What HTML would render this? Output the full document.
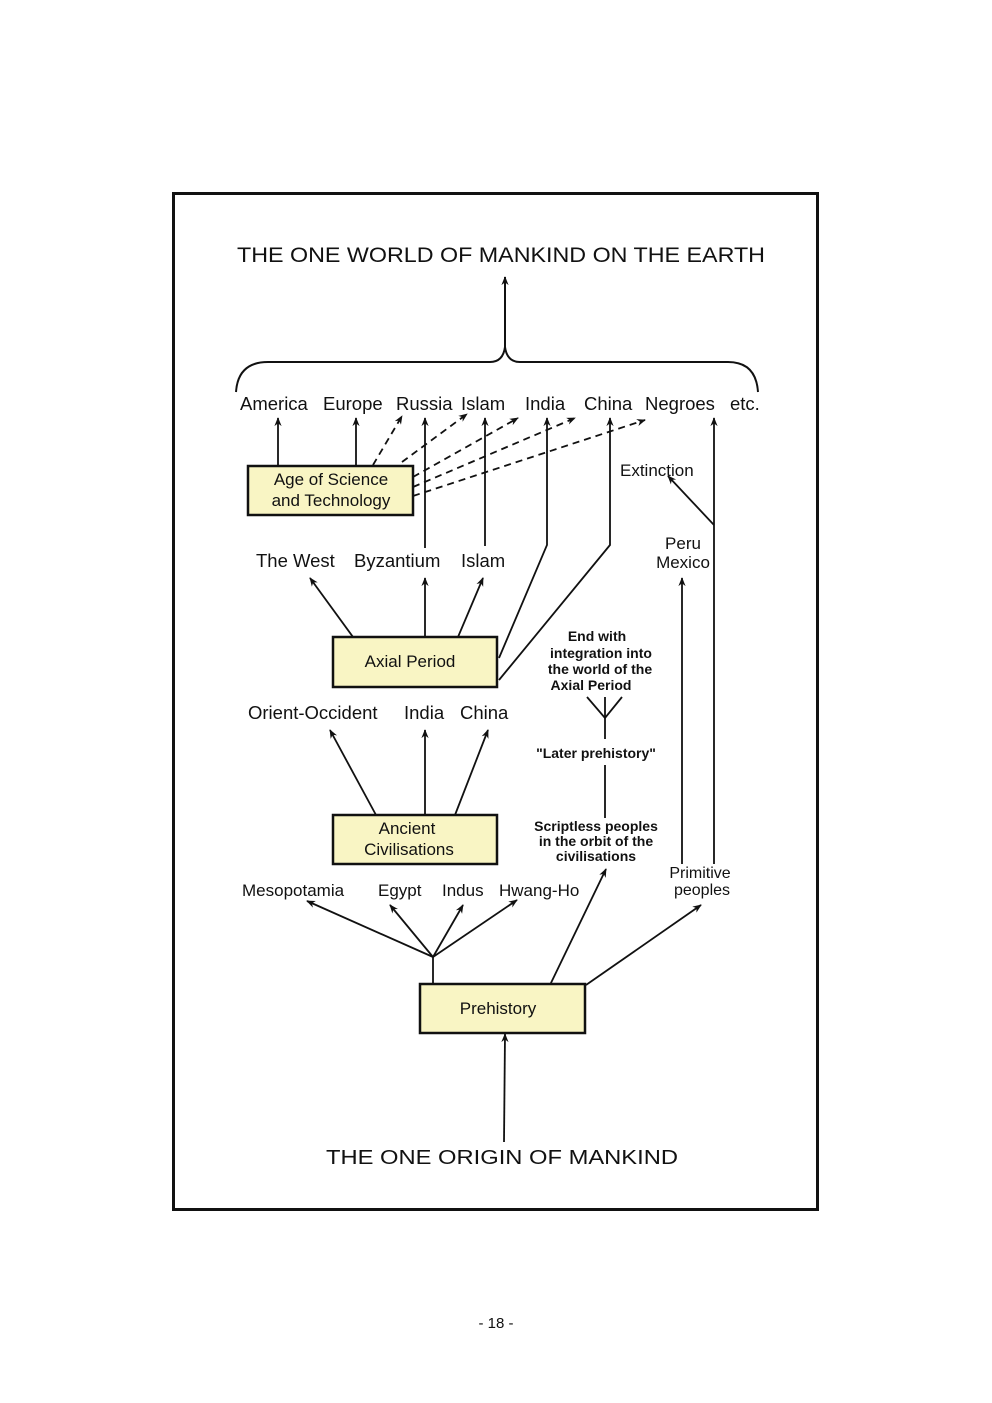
<!DOCTYPE html>
<html><head><meta charset="utf-8"><style>
html,body{margin:0;padding:0;background:#fff;}
svg{display:block;}
text{font-family:"Liberation Sans",sans-serif;fill:#111;}
</style></head><body>
<svg width="992" height="1403" viewBox="0 0 992 1403" xmlns="http://www.w3.org/2000/svg">
<defs>
<marker id="a" viewBox="0 0 10 10" refX="9" refY="5" markerWidth="9" markerHeight="9" orient="auto" markerUnits="userSpaceOnUse">
<path d="M0,1 L10,5 L0,9 L3,5 Z" fill="#111"/>
</marker>
</defs>
<rect x="173.5" y="193.5" width="644" height="1016" fill="none" stroke="#111" stroke-width="3"/>

<text x="501" y="262" font-size="21" text-anchor="middle" textLength="528" lengthAdjust="spacingAndGlyphs">THE ONE WORLD OF MANKIND ON THE EARTH</text>

<g stroke="#111" stroke-width="2" fill="none">
<path d="M236,392 Q238,362 268,362 L490,362 Q503,362 505,347 Q507,362 520,362 L728,362 Q756,362 758,392"/>
<line x1="505" y1="347" x2="505" y2="277" marker-end="url(#a)"/>
</g>

<g font-size="18.5">
<text x="240" y="410">America</text>
<text x="323" y="410">Europe</text>
<text x="396" y="410">Russia</text>
<text x="461" y="410">Islam</text>
<text x="525" y="410">India</text>
<text x="584" y="410">China</text>
<text x="645" y="410">Negroes</text>
<text x="730" y="410">etc.</text>
</g>

<rect x="248" y="466" width="165" height="49" fill="#f9f5c4" stroke="#111" stroke-width="2.5"/>
<text x="331" y="485" font-size="17" text-anchor="middle">Age of Science</text>
<text x="331" y="506" font-size="17" text-anchor="middle">and Technology</text>

<g stroke="#111" stroke-width="1.8" fill="none">
<line x1="278" y1="466" x2="278" y2="418" marker-end="url(#a)"/>
<line x1="356" y1="466" x2="356" y2="418" marker-end="url(#a)"/>
<line x1="425" y1="548" x2="425" y2="418" marker-end="url(#a)"/>
<line x1="485" y1="546" x2="485" y2="418" marker-end="url(#a)"/>
<polyline points="499,658 547,545 547,418" marker-end="url(#a)"/>
<polyline points="499,680 610,545 610,418" marker-end="url(#a)"/>
<line x1="714" y1="864" x2="714" y2="418" marker-end="url(#a)"/>
<line x1="714" y1="525" x2="668" y2="476" marker-end="url(#a)"/>
<line x1="682" y1="864" x2="682" y2="578" marker-end="url(#a)"/>
</g>
<g stroke="#111" stroke-width="1.8" fill="none" stroke-dasharray="7,5">
<line x1="373" y1="465" x2="402" y2="416" marker-end="url(#a)"/>
<line x1="402" y1="462" x2="467" y2="414" marker-end="url(#a)"/>
<line x1="413" y1="477" x2="518" y2="418" marker-end="url(#a)"/>
<line x1="413" y1="487" x2="575" y2="418" marker-end="url(#a)"/>
<line x1="413" y1="496" x2="645" y2="420" marker-end="url(#a)"/>
</g>

<text x="620" y="476" font-size="17">Extinction</text>
<text x="683" y="549" font-size="17" text-anchor="middle">Peru</text>
<text x="683" y="568" font-size="17" text-anchor="middle">Mexico</text>

<g font-size="18.5">
<text x="256" y="567">The West</text>
<text x="354" y="567">Byzantium</text>
<text x="461" y="567">Islam</text>
</g>

<g stroke="#111" stroke-width="1.8" fill="none">
<line x1="353" y1="637" x2="310" y2="578" marker-end="url(#a)"/>
<line x1="425" y1="637" x2="425" y2="578" marker-end="url(#a)"/>
<line x1="458" y1="637" x2="483" y2="578" marker-end="url(#a)"/>
</g>

<rect x="333" y="637" width="164" height="50" fill="#f9f5c4" stroke="#111" stroke-width="2.5"/>
<text x="410" y="667" font-size="17" text-anchor="middle">Axial Period</text>

<g font-size="14" text-anchor="middle" font-weight="bold">
<text x="597" y="641">End with</text>
<text x="601" y="658">integration into</text>
<text x="600" y="674">the world of the</text>
<text x="591" y="690">Axial Period</text>
<text x="596" y="758">"Later prehistory"</text>
<text x="596" y="831">Scriptless peoples</text>
<text x="596" y="846">in the orbit of the</text>
<text x="596" y="861">civilisations</text>
</g>
<g stroke="#111" stroke-width="1.8" fill="none">
<polyline points="587,697 605,718 622,697"/>
<line x1="605" y1="697" x2="605" y2="739"/>
<line x1="605" y1="765" x2="605" y2="818"/>
</g>

<g font-size="18.5">
<text x="248" y="719">Orient-Occident</text>
<text x="404" y="719">India</text>
<text x="460" y="719">China</text>
</g>
<g stroke="#111" stroke-width="1.8" fill="none">
<line x1="376" y1="815" x2="330" y2="730" marker-end="url(#a)"/>
<line x1="425" y1="815" x2="425" y2="730" marker-end="url(#a)"/>
<line x1="455" y1="815" x2="488" y2="730" marker-end="url(#a)"/>
</g>

<rect x="333" y="815" width="164" height="49" fill="#f9f5c4" stroke="#111" stroke-width="2.5"/>
<text x="407" y="834" font-size="17" text-anchor="middle">Ancient</text>
<text x="409" y="855" font-size="17" text-anchor="middle">Civilisations</text>

<g font-size="17">
<text x="242" y="896">Mesopotamia</text>
<text x="378" y="896">Egypt</text>
<text x="442" y="896">Indus</text>
<text x="499" y="896">Hwang-Ho</text>
</g>
<text x="700" y="878" font-size="16" text-anchor="middle">Primitive</text>
<text x="702" y="895" font-size="16" text-anchor="middle">peoples</text>

<g stroke="#111" stroke-width="1.8" fill="none">
<line x1="433" y1="985" x2="433" y2="957"/>
<line x1="433" y1="957" x2="307" y2="901" marker-end="url(#a)"/>
<line x1="433" y1="957" x2="390" y2="905" marker-end="url(#a)"/>
<line x1="433" y1="957" x2="463" y2="905" marker-end="url(#a)"/>
<line x1="433" y1="957" x2="517" y2="900" marker-end="url(#a)"/>
<line x1="550" y1="985" x2="606" y2="869" marker-end="url(#a)"/>
<line x1="586" y1="985" x2="701" y2="905" marker-end="url(#a)"/>
<line x1="504" y1="1142" x2="505" y2="1034" marker-end="url(#a)"/>
</g>

<rect x="420" y="984" width="165" height="49" fill="#f9f5c4" stroke="#111" stroke-width="2.5"/>
<text x="498" y="1014" font-size="17" text-anchor="middle">Prehistory</text>

<text x="502" y="1164" font-size="20" text-anchor="middle" textLength="352" lengthAdjust="spacingAndGlyphs">THE ONE ORIGIN OF MANKIND</text>

<text x="496" y="1328" font-size="15" text-anchor="middle">-  18  -</text>
</svg>
</body></html>
